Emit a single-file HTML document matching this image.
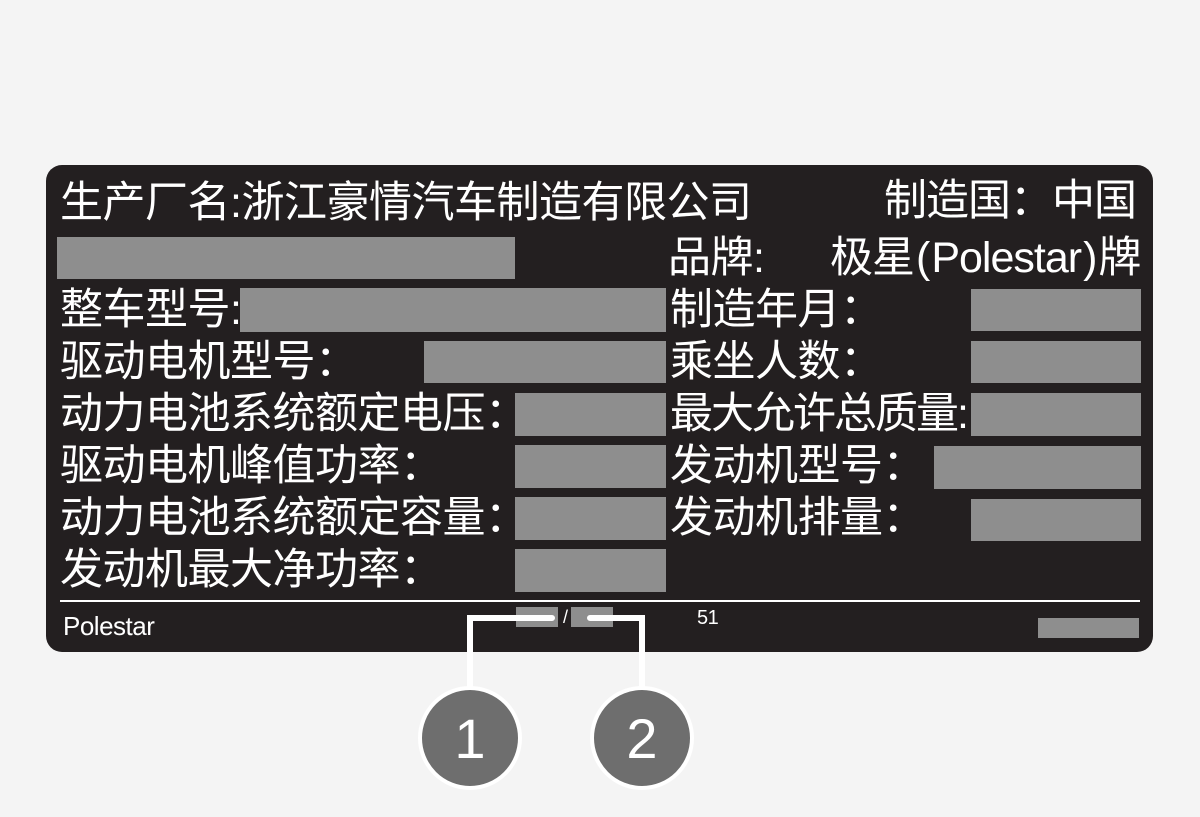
<!DOCTYPE html>
<html><head><meta charset="utf-8"><style>
body{margin:0;width:1200px;height:817px;background:#f4f4f4;position:relative;overflow:hidden;font-family:"Liberation Sans","Noto Sans CJK SC",sans-serif}
.lab{position:absolute;left:46px;top:165px;width:1107px;height:487px;background:#231f20;border-radius:16px}
.t{position:absolute;color:#fff;font-size:43px;line-height:52px;white-space:nowrap;letter-spacing:-0.5px}
.g{position:absolute;background:#8e8e8e}
</style></head><body>
<div class="lab"></div>
<div class="t" style="left:60px;top:177px">生产厂名:浙江豪情汽车制造有限公司</div>
<div class="t" style="left:884px;top:175px;letter-spacing:-1px">制造国：中国</div>
<div class="t" style="left:668px;top:232px">品牌:</div>
<div class="t" style="left:830px;top:232px;letter-spacing:-1px">极星<span style="margin:0 2px">(</span>Polestar<span style="margin:0 2px">)</span>牌</div>
<div class="t" style="left:60px;top:284px">整车型号:</div>
<div class="t" style="left:60px;top:336px">驱动电机型号：</div>
<div class="t" style="left:60px;top:388px">动力电池系统额定电压：</div>
<div class="t" style="left:60px;top:440px">驱动电机峰值功率：</div>
<div class="t" style="left:60px;top:492px">动力电池系统额定容量：</div>
<div class="t" style="left:60px;top:544px">发动机最大净功率：</div>
<div class="t" style="left:670px;top:284px">制造年月：</div>
<div class="t" style="left:670px;top:336px">乘坐人数：</div>
<div class="t" style="left:670px;top:388px;letter-spacing:-2px">最大允许总质量:</div>
<div class="t" style="left:670px;top:440px">发动机型号：</div>
<div class="t" style="left:670px;top:492px">发动机排量：</div>
<div class="g" style="left:57px;top:237px;width:458px;height:42px"></div>
<div class="g" style="left:240px;top:288px;width:426px;height:44px"></div>
<div class="g" style="left:424px;top:341px;width:242px;height:42px"></div>
<div class="g" style="left:515px;top:393px;width:151px;height:43px"></div>
<div class="g" style="left:515px;top:445px;width:151px;height:43px"></div>
<div class="g" style="left:515px;top:497px;width:151px;height:43px"></div>
<div class="g" style="left:515px;top:549px;width:151px;height:43px"></div>
<div class="g" style="left:971px;top:289px;width:170px;height:42px"></div>
<div class="g" style="left:971px;top:341px;width:170px;height:42px"></div>
<div class="g" style="left:971px;top:393px;width:170px;height:43px"></div>
<div class="g" style="left:934px;top:446px;width:207px;height:43px"></div>
<div class="g" style="left:971px;top:499px;width:170px;height:42px"></div>
<div style="position:absolute;left:60px;top:600px;width:1080px;height:2px;background:#fff"></div>
<div class="t" style="left:63px;top:611px;font-size:26px;line-height:30px;letter-spacing:-0.5px">Polestar</div>
<div class="g" style="left:516px;top:607px;width:42px;height:20px"></div>
<div class="g" style="left:571px;top:607px;width:42px;height:20px"></div>
<div class="t" style="left:563px;top:606px;font-size:18px;line-height:22px">/</div>
<div class="t" style="left:697px;top:606px;font-size:20px;line-height:24px">51</div>
<div class="g" style="left:1038px;top:618px;width:101px;height:20px"></div>
<svg style="position:absolute;left:0;top:0" width="1200" height="817">
<polyline points="552,618 470,618 470,700" fill="none" stroke="#fff" stroke-width="6" stroke-linecap="round"/>
<polyline points="590,618 642,618 642,700" fill="none" stroke="#fff" stroke-width="6" stroke-linecap="round"/>
<circle cx="470" cy="738" r="50" fill="#6e6e6e" stroke="#fff" stroke-width="4"/>
<circle cx="642" cy="738" r="50" fill="#6e6e6e" stroke="#fff" stroke-width="4"/>
<text x="470" y="758" fill="#fff" font-size="56" text-anchor="middle" font-family="Liberation Sans, sans-serif">1</text>
<text x="642" y="758" fill="#fff" font-size="56" text-anchor="middle" font-family="Liberation Sans, sans-serif">2</text>
</svg>
</body></html>
